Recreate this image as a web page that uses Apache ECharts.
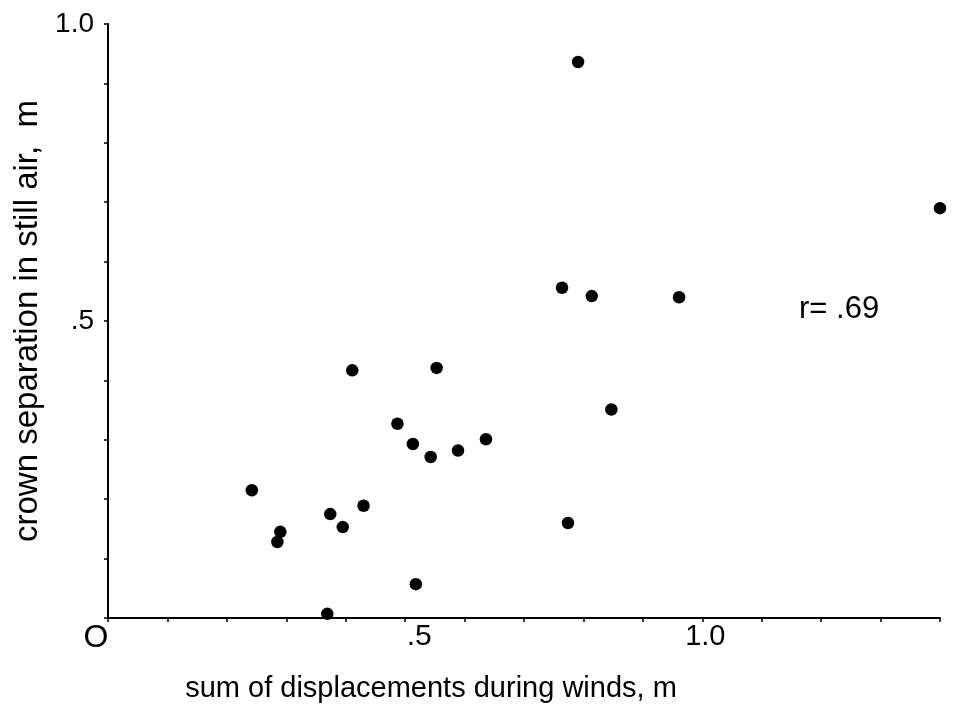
<!DOCTYPE html>
<html>
<head>
<meta charset="utf-8">
<script src="https://cdn.jsdelivr.net/npm/echarts@6/dist/echarts.min.js"></script>
<style>html,body{margin:0;padding:0;background:#fff}#c{width:954px;height:711px}</style>
</head>
<body>
<div id="c"></div>
<script>
// displacement sum during winds (m)
const xValues = [0.242, 0.290, 0.285, 0.374, 0.395, 0.430, 0.411, 0.553, 0.487, 0.513, 0.543,
                 0.589, 0.636, 0.518, 0.369, 0.791, 1.400, 0.764, 0.814, 0.961, 0.847, 0.774];
// crown separation in still air (m)
const yValues = [0.215, 0.145, 0.128, 0.175, 0.153, 0.189, 0.417, 0.421, 0.327, 0.293, 0.271,
                 0.282, 0.301, 0.057, 0.007, 0.936, 0.690, 0.556, 0.542, 0.540, 0.351, 0.160];
const xTickLabels = {0: 'O', 0.5: '.5', 1: '1.0'};
const yTickLabels = {0.5: '.5', 1: '1.0'};
const xTitle = 'sum of displacements during winds, m';
const yTitle = 'crown separation in still air,  m';
const annotation = 'r= .69';

const FONT = '"Liberation Sans", Arial, Helvetica, sans-serif';
function lookup(map, v) {
  for (const k in map) { if (Math.abs(v - Number(k)) < 1e-6) return map[k]; }
  return '';
}
const points = xValues.map((x, i) => [x, yValues[i]]);

const chart = echarts.init(document.getElementById('c'), null, {renderer: 'canvas'});
chart.setOption({
  animation: false,
  backgroundColor: '#fff',
  grid: {left: 108, right: 14, top: 24, bottom: 93},
  title: {
    text: annotation, left: 794, top: 289,
    textStyle: {fontFamily: FONT, fontSize: 31, fontWeight: 'normal', color: '#000'}
  },
  xAxis: {
    type: 'value', min: 0, max: 1.4, interval: 0.1,
    name: xTitle, nameLocation: 'middle', nameGap: 56,
    nameTextStyle: {fontFamily: FONT, fontSize: 29, color: '#000', padding: [0, 186, 0, 0]},
    axisLine: {lineStyle: {color: '#000', width: 2}},
    axisTick: {show: true, inside: false, length: 4, lineStyle: {color: '#000', width: 1.5}},
    splitLine: {show: false},
    axisLabel: {
      show: true, margin: 4, color: '#000', fontFamily: FONT, fontSize: 29,
      formatter: function (v) {
        const t = lookup(xTickLabels, v);
        if (!t) return '';
        if (t === 'O') return '{o|O}';
        if (t === '.5') return '{h|.5}';
        return '{t|' + t + '}';
      },
      rich: {
        o: {fontFamily: FONT, fontSize: 32, color: '#000', padding: [0, 24, 0, 0]},
        h: {fontFamily: FONT, fontSize: 30, color: '#000', padding: [0, 0, 0, 28]},
        t: {fontFamily: FONT, fontSize: 29, color: '#000', padding: [0, 0, 0, 6]}
      }
    }
  },
  yAxis: {
    type: 'value', min: 0, max: 1.0, interval: 0.1,
    name: yTitle, nameLocation: 'middle', nameGap: 62, nameRotate: 90,
    nameTextStyle: {fontFamily: FONT, fontSize: 33, color: '#000'},
    axisLine: {lineStyle: {color: '#000', width: 2}},
    axisTick: {show: true, inside: false, length: 4, lineStyle: {color: '#000', width: 1.5}},
    splitLine: {show: false},
    axisLabel: {
      show: true, margin: 14, color: '#000', fontFamily: FONT, fontSize: 28,
      formatter: function (v) { return lookup(yTickLabels, v); }
    }
  },
  series: [{
    type: 'scatter',
    data: points,
    symbol: 'circle',
    symbolSize: 12.5,
    clip: false,
    itemStyle: {color: '#000', opacity: 1}
  }]
});
</script>
</body>
</html>
